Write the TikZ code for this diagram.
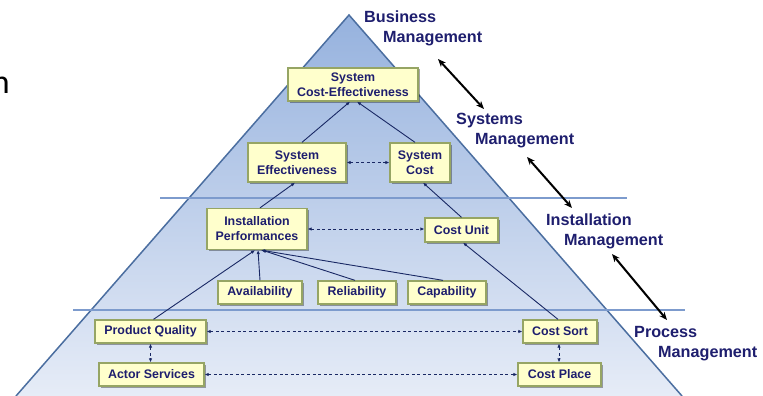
\documentclass[tikz,border=0pt]{standalone}
\usepackage{fontspec}
\setmainfont{Liberation Sans}
\newfontfamily\carl{Carlito}
\usetikzlibrary{arrows.meta,shadows,calc}
\definecolor{navy}{RGB}{30,30,110}
\definecolor{edgeblue}{RGB}{75,110,160}
\definecolor{lineblue}{RGB}{125,155,205}
\definecolor{boxfill}{RGB}{255,255,204}
\definecolor{boxdraw}{RGB}{150,165,100}
\definecolor{arrowc}{RGB}{25,40,100}
\definecolor{tritop}{RGB}{150,178,222}
\definecolor{tribot}{RGB}{230,236,247}
\begin{document}
\begin{tikzpicture}[x=1pt,y=-1pt,
 box/.style={draw=boxdraw, line width=1.3pt, fill=boxfill, text=navy,
   font=\bfseries\fontsize{12.4}{15}\selectfont, align=center, inner sep=0pt,
   drop shadow={shadow xshift=1.5pt, shadow yshift=-1.5pt, opacity=0.35, fill=black}},
 lbl/.style={anchor=base west, text=navy, font=\bfseries\fontsize{16.2}{19}\selectfont, inner sep=0pt},
 conn/.style={draw=arrowc, line width=0.9pt, -{Latex[length=4pt,width=3.5pt]}},
 dconn/.style={draw=arrowc, line width=0.9pt, dash pattern=on 3pt off 2.5pt,
   {Latex[length=4pt,width=3.5pt]}-{Latex[length=4pt,width=3.5pt]}},
 big/.style={draw=black, line width=2pt, {Stealth[length=8pt,width=6.5pt]}-{Stealth[length=8pt,width=6.5pt]}}]
\useasboundingbox (0,0) rectangle (763,396);

% pyramid
\shade[top color=tritop, bottom color=tribot] (349,15) -- (16,396) -- (682,396) -- cycle;
\draw[edgeblue, line width=1.5pt] (16,396) -- (349,15) -- (682,396);
\draw[lineblue, line width=1.3pt] (160,198) -- (627,198);
\draw[lineblue, line width=1.3pt] (73,310) -- (685,310);

% fragment of text
\node[anchor=base east, inner sep=0pt, font=\carl\fontsize{34}{40}\selectfont] (frag) at (10,93) {n};

% boxes
\node[box, minimum width=130pt, minimum height=33pt] (SCE) at (353,84.5) {System\\Cost-Effectiveness};
\node[box, minimum width=98pt, minimum height=39pt] (SE) at (297,162.5) {System\\Effectiveness};
\node[box, minimum width=60pt, minimum height=39pt] (SC) at (420,162.5) {System\\Cost};
\node[box, minimum width=100pt, minimum height=41pt] (IP) at (257,229) {Installation\\Performances};
\node[box, minimum width=73pt, minimum height=24pt] (CU) at (461.5,230) {Cost Unit};
\node[box, minimum width=84pt, minimum height=23pt] (AV) at (260,292.5) {Availability};
\node[box, minimum width=78pt, minimum height=23pt] (RE) at (357,292.5) {Reliability};
\node[box, minimum width=78pt, minimum height=23pt] (CA) at (447,292.5) {Capability};
\node[box, minimum width=111pt, minimum height=23pt] (PQ) at (150.5,331.5) {Product Quality};
\node[box, minimum width=105pt, minimum height=23pt] (AS) at (151.5,374.5) {Actor Services};
\node[box, minimum width=74pt, minimum height=23pt] (CS) at (560,331.5) {Cost Sort};
\node[box, minimum width=83pt, minimum height=23pt] (CP) at (559.5,374.5) {Cost Place};

% connectors
\draw[conn] ($(SE.north)+(5,0)$) -- ($(SCE.south)+(-3,0)$);
\draw[conn] ($(SC.north)+(-5,0)$) -- ($(SCE.south)+(4,0)$);
\draw[dconn] (SE.east) -- (SC.west);
\draw[conn] ($(IP.north)+(3,0)$) -- ($(SE.south)+(-2,0)$);
\draw[conn] (CU.north) -- ($(SC.south)+(3,0)$);
\draw[dconn] (IP.east) -- (IP.east -| CU.west);
\draw[conn] ($(CS.north)+(-2,0)$) -- ($(CU.south)+(1.5,0)$);
\draw[conn] (AV.north) -- ($(IP.south)+(1,0)$);
\draw[conn] ($(RE.north)+(-2,0)$) -- ($(IP.south)+(5,0)$);
\draw[conn] ($(CA.north)+(-4,0)$) -- ($(IP.south)+(4,0)$);
\draw[conn] ($(PQ.north)+(3,0)$) -- ($(IP.south)+(-2,0)$);
\draw[dconn] (PQ.east) -- (PQ.east -| CS.west);
\draw[dconn] (AS.east) -- (AS.east -| CP.west);
\draw[dconn] (PQ.south) -- (PQ.south |- AS.north);
\draw[dconn] ($(CS.south)+(-1,0)$) -- ($(CS.south |- CP.north)+(-1,0)$);

% level labels
\node[lbl] (B1) at (364,22.5) {Business};
\node[lbl] (B2) at (383,42.5) {Management};
\node[lbl] (S1) at (456,124) {Systems};
\node[lbl] (S2) at (475,144) {Management};
\node[lbl] (I1) at (546,225) {Installation};
\node[lbl] (I2) at (564,245) {Management};
\node[lbl] (P1) at (634,337) {Process};
\node[lbl] (P2) at (658,357) {Management};

% level arrows
\coordinate (a1) at (438,59);
\coordinate (a2) at (484,109);
\coordinate (b1) at (527,157);
\coordinate (b2) at (572,208);
\coordinate (c1) at (612,254);
\coordinate (c2) at (667,320);
\draw[big] (a1) -- (a2);
\draw[big] (b1) -- (b2);
\draw[big] (c1) -- (c2);
\end{tikzpicture}
\end{document}
